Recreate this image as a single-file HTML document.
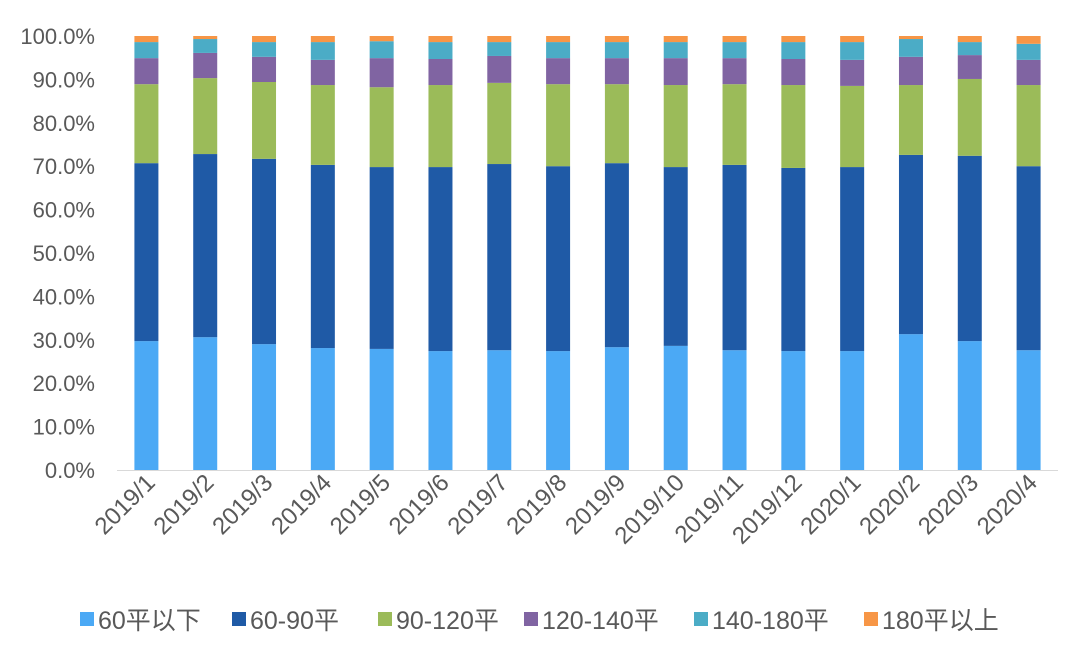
<!DOCTYPE html>
<html><head><meta charset="utf-8"><style>
body{margin:0;background:#fff;}
svg{display:block;font-family:"Liberation Sans","Noto Sans CJK SC",sans-serif;}
</style></head><body>
<svg id="chart" width="1080" height="652"></svg>
<script>
const categories=["2019/1","2019/2","2019/3","2019/4","2019/5","2019/6","2019/7","2019/8","2019/9","2019/10","2019/11","2019/12","2020/1","2020/2","2020/3","2020/4"];
const seriesNames=["60平以下","60-90平","90-120平","120-140平","140-180平","180平以上"];
const seriesColors=["#4BA9F5","#1F5AA6","#9BBB59","#8064A2","#4BACC6","#F79646"];
const s60=[29.7,30.6,29.0,28.1,27.9,27.4,27.6,27.4,28.3,28.6,27.6,27.4,27.4,31.3,29.7,27.6];
const s60_90=[41.0,42.2,42.7,42.2,41.9,42.4,42.9,42.6,42.4,41.2,42.7,42.2,42.4,41.3,42.7,42.4];
const s90_120=[18.2,17.5,17.7,18.4,18.4,18.9,18.7,18.9,18.2,18.9,18.6,19.1,18.7,16.1,17.7,18.7];
const s120_140=[6.0,5.8,5.8,5.8,6.7,6.0,6.2,6.0,6.0,6.2,6.0,6.0,6.0,6.5,5.5,5.8];
const s140_180=[3.7,3.2,3.4,4.1,3.9,3.9,3.2,3.7,3.7,3.7,3.7,3.9,4.1,4.1,3.0,3.7];
const s180=[1.4,0.7,1.4,1.4,1.2,1.4,1.4,1.4,1.4,1.4,1.4,1.4,1.4,0.7,1.4,1.8];
const yTicks=[0,10,20,30,40,50,60,70,80,90,100];
const series=[s60,s60_90,s90_120,s120_140,s140_180,s180];
const NS="http://www.w3.org/2000/svg";
const svg=document.getElementById('chart');
const x0=117,x1=1058,yBase=470,yTop=36;
const step=(x1-x0)/categories.length, bw=24;
const yScale=v=>yBase-(v/100)*(yBase-yTop);
const xCenter=i=>x0+step*(i+0.5);
function mk(t,a){const e=document.createElementNS(NS,t);for(const k in a)e.setAttribute(k,a[k]);svg.appendChild(e);return e;}
yTicks.forEach(t=>{
 const e=mk('text',{x:95,y:yScale(t)+8,'text-anchor':'end','font-size':22,fill:'#595959'});
 e.textContent=t.toFixed(1)+'%';
 
 
});
categories.forEach((c,i)=>{
 let cum=0;
 series.forEach((s,k)=>{
  const v=s[i];
  const r=mk('rect',{x:xCenter(i)-bw/2,y:yScale(cum+v),width:bw,height:yScale(cum)-yScale(cum+v),fill:seriesColors[k]});
  
  
  cum+=v;
 });
 const cx=xCenter(i)+10,cy=484;
 const t=mk('text',{x:cx,y:cy,'text-anchor':'end','font-size':24,fill:'#595959',transform:`rotate(-45 ${cx} ${cy})`});
 t.textContent=c;
 
 
});
const ax=mk('line',{x1:x0,x2:x1,y1:yBase+0.5,y2:yBase+0.5,stroke:'#D9D9D9','stroke-width':1});


const legX=[80,232,378,524,694,864];
seriesNames.forEach((n,k)=>{
 const r=mk('rect',{x:legX[k],y:612,width:14,height:14,fill:seriesColors[k]});
 
 
 const t=mk('text',{x:legX[k]+18,y:629,'font-size':25,fill:'#595959'});
 t.textContent=n;
 
 
});
</script>
</body></html>
